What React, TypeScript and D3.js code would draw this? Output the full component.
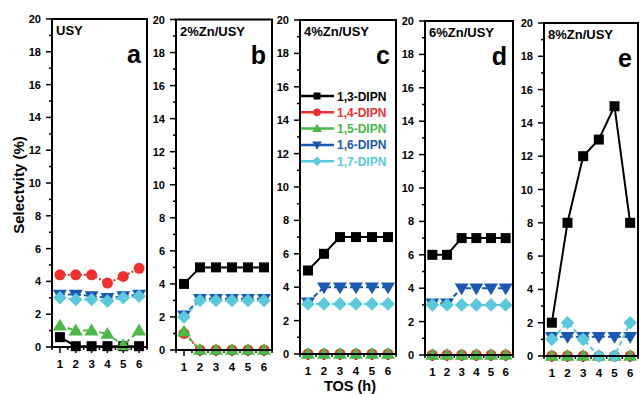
import React, { useEffect, useRef } from 'react';
import * as d3 from 'd3';

// TOS points (h)
const tos = [1, 2, 3, 4, 5, 6];
const catalysts = ['USY', '2%Zn/USY', '4%Zn/USY', '6%Zn/USY', '8%Zn/USY'];
const panelLetters = ['a', 'b', 'c', 'd', 'e'];
const isomers = ['1,3-DIPN', '1,4-DIPN', '1,5-DIPN', '1,6-DIPN', '1,7-DIPN'];

// selectivity (%) per catalyst, one row per panel
const sel13 = [
  [0.6, 0.05, 0.05, 0.05, 0.05, 0.05],
  [4, 5, 5, 5, 5, 5],
  [5, 6, 7, 7, 7, 7],
  [6, 6, 7, 7, 7, 7],
  [2, 8, 12, 13, 15, 8],
];
const sel14 = [
  [4.4, 4.4, 4.4, 3.9, 4.3, 4.8],
  [1, 0, 0, 0, 0, 0],
  [0, 0, 0, 0, 0, 0],
  [0, 0, 0, 0, 0, 0],
  [0, 0, 0, 0, 0, 0],
];
const sel15 = [
  [1.3, 1.0, 1.0, 0.8, 0.1, 1.0],
  [1.1, 0, 0, 0, 0, 0],
  [0, 0, 0, 0, 0, 0],
  [0, 0, 0, 0, 0, 0],
  [0, 0, 0, 0, 0, 0],
];
const sel16 = [
  [3.2, 3.2, 3.1, 3.0, 3.1, 3.2],
  [2.1, 3.1, 3.1, 3.1, 3.1, 3.1],
  [3.1, 4, 4, 4, 4, 4],
  [3.1, 3.1, 4, 4, 4, 4],
  [1.15, 1.15, 1.15, 1.15, 1.15, 1.15],
];
const sel17 = [
  [3.0, 2.9, 2.9, 2.8, 3.0, 3.1],
  [2, 3, 3, 3, 3, 3],
  [3, 3, 3, 3, 3, 3],
  [3, 3, 3, 3, 3, 3],
  [1, 2, 1, 0, 0, 2],
];
const yTicks = [0, 2, 4, 6, 8, 10, 12, 14, 16, 18, 20];

const seriesData = [sel13, sel14, sel15, sel16, sel17];
const colors = ['#000000', '#ee3030', '#4cb848', '#1b58b0', '#5bc8db'];
const dashes = [null, '2,2', '5,3', '5,3', '5,3'];

// panel boxes (px) – the original figure is slightly skewed
const boxes = [
  { left: 52, right: 147, top: 19, bottom: 347 },
  { left: 176, right: 272, top: 19.5, bottom: 350 },
  { left: 300, right: 396, top: 20, bottom: 354 },
  { left: 425, right: 513, top: 21, bottom: 355 },
  { left: 544, right: 638, top: 23, bottom: 356 },
];

const FONT = "'Liberation Sans', Arial, sans-serif";

function drawMarker(g: any, kind: number, x: number, y: number, color: string, s = 1) {
  if (kind === 0) {
    const h = 5 * s;
    g.append('rect').attr('x', x - h).attr('y', y - h).attr('width', 2 * h).attr('height', 2 * h).attr('fill', color);
  } else if (kind === 1) {
    g.append('circle').attr('cx', x).attr('cy', y).attr('r', 5.5 * s).attr('fill', color);
  } else if (kind === 2) {
    const a = 7 * s, b = 4.8 * s;
    g.append('path').attr('d', `M${x},${y - a}L${x + a},${y + b}L${x - a},${y + b}Z`).attr('fill', color);
  } else if (kind === 3) {
    const a = 7 * s, b = 4.8 * s;
    g.append('path').attr('d', `M${x - a},${y - b}L${x + a},${y - b}L${x},${y + a}Z`).attr('fill', color);
  } else {
    const a = 6.8 * s;
    g.append('path').attr('d', `M${x},${y - a}L${x + a},${y}L${x},${y + a}L${x - a},${y}Z`).attr('fill', color);
  }
}

export default function App() {
  const ref = useRef<SVGSVGElement | null>(null);

  useEffect(() => {
    if (!ref.current) return;
    const svg = d3.select(ref.current);
    svg.selectAll('*').remove();

    boxes.forEach((b, p) => {
      const x = d3.scaleLinear().domain([0.5, 6.5]).range([b.left, b.right]);
      const y = d3.scaleLinear().domain([0, 20]).range([b.bottom, b.top]);
      const g = svg.append('g');

      // y ticks: labelled every 2, minor every 1
      d3.range(0, 21).forEach(v => {
        const major = v % 2 === 0;
        g.append('line')
          .attr('x1', b.left).attr('x2', b.left - (major ? 6 : 3))
          .attr('y1', y(v)).attr('y2', y(v))
          .attr('stroke', '#000').attr('stroke-width', 1.5);
      });
      yTicks.forEach(v => {
        g.append('text')
          .attr('x', b.left - 11).attr('y', y(v) + 4)
          .attr('text-anchor', 'end')
          .attr('font-family', FONT).attr('font-weight', 'bold').attr('font-size', 11)
          .text(v);
      });

      // x ticks: labelled at integers, minor at halves
      d3.range(0.5, 6.51, 0.5).forEach(v => {
        const major = Number.isInteger(v);
        g.append('line')
          .attr('x1', x(v)).attr('x2', x(v))
          .attr('y1', b.bottom).attr('y2', b.bottom + (major ? 6 : 3))
          .attr('stroke', '#000').attr('stroke-width', 1.5);
      });
      tos.forEach(v => {
        g.append('text')
          .attr('x', x(v)).attr('y', b.bottom + 21)
          .attr('text-anchor', 'middle')
          .attr('font-family', FONT).attr('font-weight', 'bold').attr('font-size', 11.5)
          .text(v);
      });

      // series lines + markers
      const plot = g.append('g');
      seriesData.forEach((s, k) => {
        const vals = s[p];
        const line = d3.line<number>().x((_, i) => x(tos[i])).y(d => y(d));
        const path = plot.append('path')
          .attr('d', line(vals))
          .attr('fill', 'none')
          .attr('stroke', colors[k])
          .attr('stroke-width', 2);
        if (dashes[k]) path.attr('stroke-dasharray', dashes[k]);
        vals.forEach((v, i) => drawMarker(plot, k, x(tos[i]), y(v), colors[k]));
      });

      // frame
      g.append('rect')
        .attr('x', b.left).attr('y', b.top)
        .attr('width', b.right - b.left).attr('height', b.bottom - b.top)
        .attr('fill', 'none').attr('stroke', '#000').attr('stroke-width', 2);

      g.append('text')
        .attr('x', b.left + 4).attr('y', b.top + 16)
        .attr('font-family', FONT).attr('font-weight', 'bold').attr('font-size', 13)
        .text(catalysts[p]);
      g.append('text')
        .attr('x', b.right - 6).attr('y', b.top + 44)
        .attr('text-anchor', 'end')
        .attr('font-family', FONT).attr('font-weight', 'bold').attr('font-size', 25)
        .text(panelLetters[p]);

      // legend lives in panel c
      if (p === 2) {
        isomers.forEach((name, k) => {
          const ly = 96 + k * 16.3;
          g.append('line')
            .attr('x1', b.left + 1).attr('x2', b.left + 34)
            .attr('y1', ly).attr('y2', ly)
            .attr('stroke', colors[k]).attr('stroke-width', 2.5);
          drawMarker(g, k, b.left + 17, ly, colors[k], 0.7);
          g.append('text')
            .attr('x', b.left + 37).attr('y', ly + 4.5)
            .attr('font-family', FONT).attr('font-weight', 'bold').attr('font-size', 12)
            .attr('fill', colors[k])
            .text(name);
        });
      }
    });

    svg.append('text')
      .attr('transform', 'translate(24,185) rotate(-90)')
      .attr('text-anchor', 'middle')
      .attr('font-family', FONT).attr('font-weight', 'bold').attr('font-size', 15)
      .text('Selectvity (%)');
    svg.append('text')
      .attr('x', 350).attr('y', 391)
      .attr('text-anchor', 'middle')
      .attr('font-family', FONT).attr('font-weight', 'bold').attr('font-size', 14.5)
      .text('TOS (h)');
  }, []);

  return (
    <svg ref={ref} width={640} height={394}
      style={{ position: 'absolute', left: 0, top: 0, background: '#fff' }} />
  );
}
